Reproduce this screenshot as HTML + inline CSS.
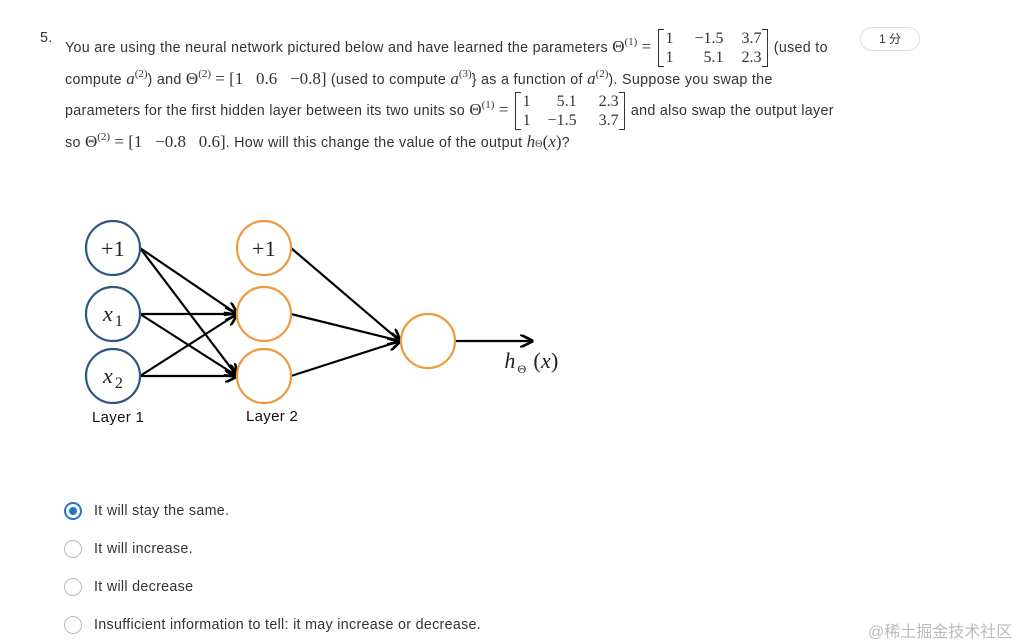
<!DOCTYPE html>
<html><head><meta charset="utf-8"><style>
body{margin:0;width:1034px;height:644px;background:#fff;position:relative;overflow:hidden;font-family:"Liberation Sans","Noto Sans CJK SC",sans-serif;color:#333;font-size:14.3px;letter-spacing:0.3px}
.a{position:absolute;white-space:nowrap}
.m{font-family:"Liberation Serif",serif;font-size:17px;letter-spacing:0}
.i{font-style:italic}
sup{font-size:11px;font-family:"Liberation Serif",serif;vertical-align:7px;line-height:0;letter-spacing:0}
.mat{display:inline-block;position:relative;vertical-align:middle;font-family:"Liberation Serif",serif;font-size:16px;letter-spacing:0;padding:0 6px;line-height:19px;margin:-10px 2px}
.mat .lb,.mat .rb{position:absolute;top:0;bottom:0;width:5px;border:1.5px solid #333}
.mat .lb{left:0;border-right:none}.mat .rb{right:0;border-left:none}
.mat span{display:inline-block;text-align:right}
.radio{position:absolute;left:64px;width:18px;height:18px;border:1.5px solid #bbb;border-radius:50%;box-sizing:border-box}
</style></head><body>
<div class="a" style="left:40px;top:30px">5.</div>
<div class="a" style="left:65px;top:37px">You are using the neural network pictured below and have learned the parameters <span class="m">Θ</span><sup>(1)</sup> <span class="m">=</span> <span class="mat"><i class="lb"></i><i class="rb"></i><div><span style="width:10px">1</span><span style="width:50px">−1.5</span><span style="width:38px">3.7</span></div><div><span style="width:10px">1</span><span style="width:50px">5.1</span><span style="width:38px">2.3</span></div></span> (used to</div>
<div class="a" style="left:860px;top:27px;width:58px;height:22px;border:1px solid #ddd;border-radius:12px;text-align:center;line-height:22px;font-size:12px;letter-spacing:0">1 分</div>

<div class="a" style="left:65px;top:69px">compute <span class="m i">a</span><sup>(2)</sup>) and <span class="m">Θ</span><sup>(2)</sup> <span class="m">= [1 &nbsp;&nbsp;0.6 &nbsp;&nbsp;−0.8]</span> (used to compute <span class="m i">a</span><sup>(3)</sup>} as a function of <span class="m i">a</span><sup>(2)</sup>). Suppose you swap the</div>

<div class="a" style="left:65px;top:100px">parameters for the first hidden layer between its two units so <span class="m">Θ</span><sup>(1)</sup> <span class="m">=</span> <span class="mat"><i class="lb"></i><i class="rb"></i><div><span style="width:10px">1</span><span style="width:46px">5.1</span><span style="width:42px">2.3</span></div><div><span style="width:10px">1</span><span style="width:46px">−1.5</span><span style="width:42px">3.7</span></div></span> and also swap the output layer</div>

<div class="a" style="left:65px;top:132px">so <span class="m">Θ</span><sup>(2)</sup> <span class="m">= [1 &nbsp;&nbsp;−0.8 &nbsp;&nbsp;0.6]</span>. How will this change the value of the output <span class="m i">h</span><span style="font-family:'Liberation Serif',serif;font-size:10px">Θ</span><span class="m">(<i>x</i>)</span>?</div>

<svg style="position:absolute;left:0;top:0" width="1034" height="644">
<defs><marker id="ar" viewBox="0 0 10 10" refX="9" refY="5" markerWidth="6" markerHeight="6" orient="auto"><path d="M0,0 L10,5 L0,10" fill="none" stroke="#000" stroke-width="2"/></marker></defs>
<g stroke="#000" stroke-width="2.2" fill="none" marker-end="url(#ar)">
<line x1="140" y1="248" x2="237" y2="314"/>
<line x1="140" y1="248" x2="237" y2="376"/>
<line x1="140" y1="314" x2="237" y2="314"/>
<line x1="140" y1="314" x2="237" y2="376"/>
<line x1="140" y1="376" x2="237" y2="314"/>
<line x1="140" y1="376" x2="237" y2="376"/>
<line x1="291" y1="248" x2="400" y2="341"/>
<line x1="291" y1="314" x2="400" y2="341"/>
<line x1="291" y1="376" x2="400" y2="341"/>
<line x1="455" y1="341" x2="532" y2="341"/>
</g>
<g stroke="#2f5585" stroke-width="2.2" fill="#fff">
<circle cx="113" cy="248" r="27"/><circle cx="113" cy="314" r="27"/><circle cx="113" cy="376" r="27"/></g>
<g stroke="#ed9a3c" stroke-width="2.2" fill="#fff">
<circle cx="264" cy="248" r="27"/><circle cx="264" cy="314" r="27"/><circle cx="264" cy="376" r="27"/><circle cx="428" cy="341" r="27"/></g>
<g font-family="Liberation Serif,serif" font-size="22" fill="#222" text-anchor="middle">
<text x="113" y="256">+1</text><text x="264" y="256">+1</text>
<text x="108" y="321" font-style="italic">x</text><text x="119" y="326" font-size="16">1</text>
<text x="108" y="383" font-style="italic">x</text><text x="119" y="388" font-size="16">2</text>
<text x="510" y="368" font-style="italic">h</text><text x="522" y="373" font-size="12">Θ</text><text x="546" y="368">(<tspan font-style="italic">x</tspan>)</text>
</g>
<g font-family="Liberation Sans,sans-serif" font-size="15" fill="#111">
<text x="92" y="422">Layer 1</text><text x="246" y="421">Layer 2</text></g>
</svg>

<div class="radio" style="top:502px;border:2px solid #2a73cc"><div style="position:absolute;left:3px;top:3px;width:8px;height:8px;border-radius:50%;background:#2a73cc"></div></div>
<div class="a" style="left:94px;top:503px">It will stay the same.</div>
<div class="radio" style="top:540px"></div><div class="a" style="left:94px;top:541px">It will increase.</div>
<div class="radio" style="top:578px"></div><div class="a" style="left:94px;top:579px">It will decrease</div>
<div class="radio" style="top:616px"></div><div class="a" style="left:94px;top:617px">Insufficient information to tell: it may increase or decrease.</div>
<div class="a" style="left:868px;top:618px;color:#bbb;font-size:16px;letter-spacing:0">@稀土掘金技术社区</div>
</body></html>
